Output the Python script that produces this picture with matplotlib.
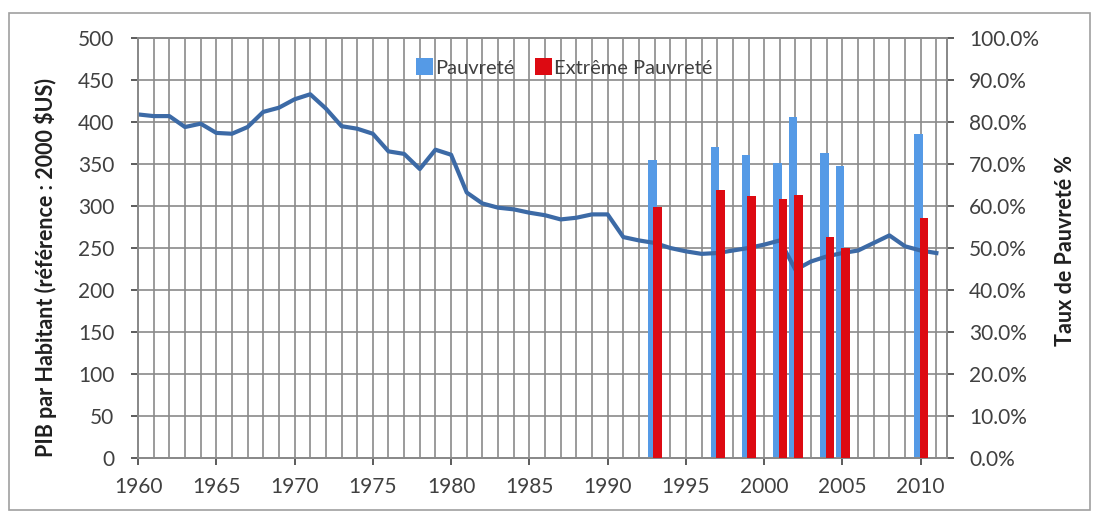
import matplotlib
matplotlib.use("Agg")
import matplotlib.pyplot as plt
from matplotlib.ticker import MultipleLocator, FuncFormatter
from matplotlib.patches import Rectangle

plt.rcParams['font.family'] = ['Lato', 'DejaVu Sans']

# PIB par habitant (2000 $US), 1960-2011
annees = list(range(1960, 2012))
pib = [409, 407, 407, 394, 398, 387, 386, 394, 412, 417,
       427, 433, 416, 395, 392, 386, 365, 362, 344, 367,
       361, 316, 303, 298, 296, 292, 289, 284, 286, 290,
       290, 263, 259, 256, 250, 246, 243, 244, 247, 250,
       254, 259, 224, 234, 240, 244, 247, 256, 265, 252,
       247, 244]

# taux de pauvreté (%)
annees_pauv = [1993, 1997, 1999, 2001, 2002, 2004, 2005, 2010]
pauvrete = [71.0, 74.1, 72.1, 70.2, 81.3, 72.7, 69.6, 77.1]
extreme = [59.8, 63.8, 62.4, 61.6, 62.6, 52.5, 50.0, 57.1]

fig = plt.figure(figsize=(10.99, 5.16), dpi=100)
pos = [0.1256, 0.1124, 0.8617 - 0.1256, 0.9264 - 0.1124]
ax2 = fig.add_axes(pos)           # axe secondaire (barres bleues), derrière
ax = fig.add_axes(pos)            # axe principal (courbe PIB)
ax3 = fig.add_axes(pos)           # barres rouges, devant
ax.patch.set_visible(False)
ax3.patch.set_visible(False)

grille = '#8a8a8a'
texte = '#404040'
fs = 15

# courbe PIB
ax.plot(annees, pib, color='#3c6aa6', linewidth=3, zorder=3, solid_joinstyle='round')
ax.set_xlim(1960, 2011.68)
ax.set_ylim(0, 500)
ax.yaxis.set_major_locator(MultipleLocator(50))
ax.xaxis.set_major_locator(MultipleLocator(5))
ax.xaxis.set_minor_locator(MultipleLocator(1))
ax.tick_params(axis='both', which='major', labelsize=fs, colors=texte, length=5, width=1.2)
ax.tick_params(axis='y', pad=12)
ax.tick_params(axis='x', pad=9)
ax.tick_params(axis='x', which='minor', length=0)
ax.set_ylabel('PIB par Habitant (référence : 2000 $US)', fontsize=15.5,
              fontweight='bold', color='#202020')
ax.yaxis.set_label_coords(-0.100, 0.4536)

# grille sur l'axe du fond
ax2.set_xlim(1960, 2011.68)
ax2.set_ylim(0, 100)
ax2.xaxis.set_minor_locator(MultipleLocator(1))
ax2.grid(True, which='both', axis='x', color=grille, linewidth=1.2, zorder=0)
for v in range(0, 101, 10):
    ax2.axhline(v, color=grille, linewidth=1.2, zorder=0)
ax2.set_axisbelow(True)
ax2.tick_params(axis='both', which='both', length=0, labelleft=False, labelbottom=False)

largeur = 0.55
xb = [a - 0.15 for a in annees_pauv]
xr = [a + 0.2 for a in annees_pauv]
ax2.bar(xb, pauvrete, width=largeur, color='#559ae6', label='Pauvreté', zorder=2)

ax3.bar(xr, extreme, width=largeur, color='#dd0a12', label='Extrême Pauvreté', zorder=3)
ax3.set_xlim(1960, 2011.68)
ax3.set_ylim(0, 100)
ax3.xaxis.set_visible(False)
ax3.yaxis.tick_right()
ax3.yaxis.set_label_position('right')
ax3.yaxis.set_major_locator(MultipleLocator(10))
ax3.yaxis.set_major_formatter(FuncFormatter(lambda v, p: f'{v:.1f}%'))
ax3.tick_params(axis='y', labelsize=fs, colors=texte, length=5, width=1.2, pad=11)
ax3.set_ylabel('Taux de Pauvreté %', fontsize=15.5, fontweight='bold',
               color='#202020', rotation=90)
ax3.yaxis.set_label_coords(1.1335, 0.493)

for a in (ax, ax2, ax3):
    for s in ['left', 'bottom', 'right', 'top']:
        a.spines[s].set_color(grille)
        a.spines[s].set_linewidth(1.2)

poignees = ax2.get_legend_handles_labels()[0] + ax3.get_legend_handles_labels()[0]
noms = ['Pauvreté', 'Extrême Pauvreté']
leg = ax3.legend(poignees, noms, loc='center', bbox_to_anchor=(0.527, 0.930), ncol=2,
                 frameon=False, fontsize=14.5, handlelength=0.85, handleheight=0.9,
                 handletextpad=0.1, columnspacing=1.0)
for t in leg.get_texts():
    t.set_color(texte)

fig.patches.append(Rectangle((0.008, 0.012), 0.984, 0.963, transform=fig.transFigure,
                             fill=False, edgecolor='#a0a0a0', linewidth=1.2))

fig.savefig('out.png', dpi=100)
